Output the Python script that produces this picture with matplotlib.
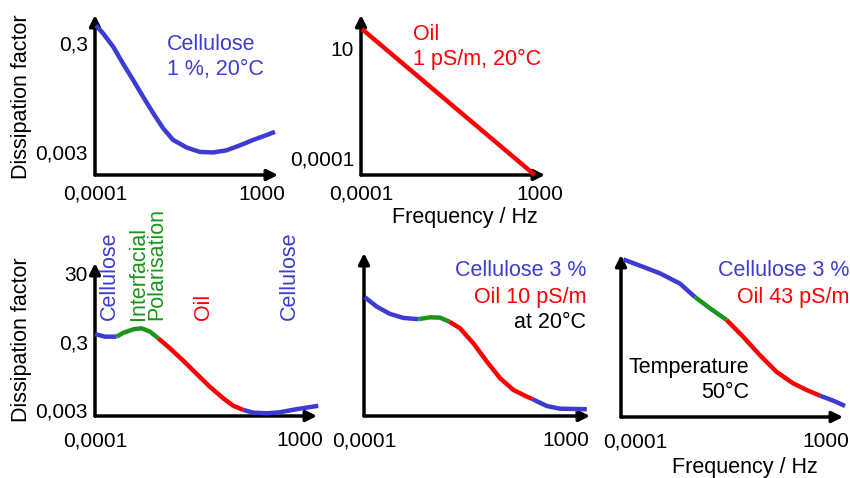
import numpy as np
import matplotlib.pyplot as plt

plt.rcParams['font.family'] = ['Liberation Sans', 'DejaVu Sans']

BLUE = "#3c3cd4"
RED = "#ff0000"
GREEN = "#1a961a"

# curves: log10(frequency), log10(dissipation factor)
cell1_logf = [-3.96, -3.65, -3.23, -2.82, -2.40, -1.98, -1.56, -1.14, -0.73, -0.16,
              0.39, 0.95, 1.51, 2.06, 2.62, 3.18, 3.53]
cell1_logd = [-0.19, -0.345, -0.59, -0.90, -1.20, -1.51, -1.81, -2.09, -2.30, -2.44,
              -2.52, -2.53, -2.49, -2.40, -2.30, -2.21, -2.15]

oil_logf = [-3.96, 2.8]
oil_logd = [1.86, -4.77]

# bottom row: segments (colour, logf, logd)
mix1 = [
    (BLUE, [-4.0, -3.66, -3.26], [-0.29, -0.367, -0.367]),
    (GREEN, [-3.26, -3.03, -2.69, -2.41, -2.12, -1.84], [-0.367, -0.25, -0.15, -0.12, -0.22, -0.414]),
    (RED, [-1.84, -1.44, -0.99, -0.53, -0.08, 0.38, 0.72, 1.06],
     [-0.414, -0.71, -1.07, -1.46, -1.84, -2.18, -2.40, -2.52]),
    (BLUE, [1.06, 1.40, 1.86, 2.31, 2.88, 3.62], [-2.52, -2.60, -2.62, -2.59, -2.50, -2.40]),
]
mix2 = [
    (BLUE, [-3.97, -3.56, -3.10, -2.64, -2.12], [0.79, 0.515, 0.30, 0.183, 0.145]),
    (GREEN, [-2.12, -1.72, -1.37, -1.05], [0.145, 0.20, 0.19, 0.074]),
    (RED, [-1.05, -0.68, -0.22, 0.25, 0.71, 1.17, 1.63, 1.82],
     [0.074, -0.12, -0.56, -1.10, -1.59, -1.935, -2.13, -2.20]),
    (BLUE, [1.82, 2.32, 2.78, 3.71], [-2.20, -2.405, -2.485, -2.50]),
]
mix3 = [
    (BLUE, [-3.92, -3.24, -2.67, -1.99, -1.47], [1.91, 1.69, 1.50, 1.20, 0.80]),
    (GREEN, [-1.47, -0.96, -0.39], [0.80, 0.47, 0.124]),
    (RED, [-0.39, 0.17, 0.74, 1.31, 1.88, 2.34, 2.79],
     [0.124, -0.367, -0.906, -1.40, -1.74, -1.935, -2.10]),
    (BLUE, [2.79, 3.25, 3.65], [-2.10, -2.25, -2.405]),
]

W, H = 850, 478
fig = plt.figure(figsize=(8.5, 4.78), dpi=100)


def make_axes(left, right, top, bottom, xlim, ylim, pad):
    ax = fig.add_axes([left / W, 1 - bottom / H, (right - left) / W, (bottom - top) / H])
    ax.set_xscale('log')
    ax.set_yscale('log')
    ax.set_xlim(10 ** xlim[0], 10 ** xlim[1])
    ax.set_ylim(10 ** ylim[0], 10 ** ylim[1])
    for s in ax.spines.values():
        s.set_visible(False)
    ax.tick_params(length=0, labelsize=15)
    ax.tick_params(axis='x', pad=pad)
    ax.tick_params(axis='y', pad=5)
    ax.minorticks_off()
    ax.set_xticks([])
    ax.set_yticks([])
    arrow = dict(arrowstyle='-|>', lw=2.5, color='k', mutation_scale=16, shrinkA=0, shrinkB=0)
    ax.annotate('', xy=(1, 0), xytext=(0, 0), xycoords='axes fraction', arrowprops=arrow)
    ax.annotate('', xy=(0, 1), xytext=(0, 0), xycoords='axes fraction', arrowprops=arrow)
    ax.patch.set_visible(False)
    return ax


def plot_line(ax, c, lf, ld):
    ax.plot(10 ** np.array(lf), 10 ** np.array(ld), color=c, lw=3.2,
            solid_capstyle='butt', solid_joinstyle='round', clip_on=False, zorder=3)


def ftext(x, y, s, **kw):
    kw.setdefault('fontsize', 15.5)
    fig.text(x / W, 1 - y / H, s, **kw)


# top left
ax1 = make_axes(95, 278, 15, 175, (-4, 3.66), (-2.945, 0.0), 7)
plot_line(ax1, BLUE, cell1_logf, cell1_logd)
ax1.set_xticks([1e-4, 1e3], ['0,0001', '1000'])
ax1.set_yticks([0.3, 0.003], ['0,3', '0,003'])

# top right
ax2 = make_axes(361, 545, 15, 175, (-4, 3.2), (-4.77, 2.5), 7)
plot_line(ax2, RED, oil_logf, oil_logd)
ax2.set_xticks([1e-4, 1e3], ['0,0001', '1000'])
ax2.set_yticks([10, 1e-4], ['10', '0,0001'])

# bottom row
ax3 = make_axes(95, 317, 263, 416, (-4, 3.58), (-2.70, 1.80), 11)
for seg in mix1:
    plot_line(ax3, *seg)
ax3.set_xticks([1e-4, 1e3], ['0,0001', '1000'])
ax3.set_yticks([30, 0.3, 0.003], ['30', '0,3', '0,003'])

ax4 = make_axes(364, 590, 253, 416, (-4, 3.82), (-2.70, 2.09), 11)
for seg in mix2:
    plot_line(ax4, *seg)
ax4.set_xticks([1e-4, 1e3], ['0,0001', '1000'])

ax5 = make_axes(621, 843, 255, 417, (-4, 3.58), (-2.73, 2.04), 11)
for seg in mix3:
    plot_line(ax5, *seg)
ax5.set_xticks([10 ** -3.5, 1e3], ['0,0001', '1000'])

# axis titles
ftext(22, 97, 'Dissipation factor', rotation=90, ha='center', va='center')
ftext(22, 340, 'Dissipation factor', rotation=90, ha='center', va='center')
ftext(465, 217, 'Frequency / Hz', ha='center', va='center')
ftext(745, 467, 'Frequency / Hz', ha='center', va='center')

# annotations
ftext(167, 57, 'Cellulose\n1 %, 20°C', color=BLUE, ha='left', va='center', linespacing=1.25)
ftext(413, 47, 'Oil\n1 pS/m, 20°C', color=RED, ha='left', va='center', linespacing=1.25)

for x, s, c in [(109, 'Cellulose', BLUE), (138, 'Interfacial', GREEN),
                (157, 'Polarisation', GREEN), (204, 'Oil', RED), (289, 'Cellulose', BLUE)]:
    ftext(x, 320, s, color=c, rotation=90, ha='center', va='bottom')

ftext(586, 270, 'Cellulose 3 %', color=BLUE, ha='right', va='center')
ftext(586, 297, 'Oil 10 pS/m', color=RED, ha='right', va='center')
ftext(586, 322, 'at 20°C', color='k', ha='right', va='center')

ftext(849, 270, 'Cellulose 3 %', color=BLUE, ha='right', va='center')
ftext(849, 297, 'Oil 43 pS/m', color=RED, ha='right', va='center')
ftext(749, 380, 'Temperature\n50°C', color='k', ha='right', va='center', linespacing=1.25)

fig.savefig('out.png', dpi=100)
